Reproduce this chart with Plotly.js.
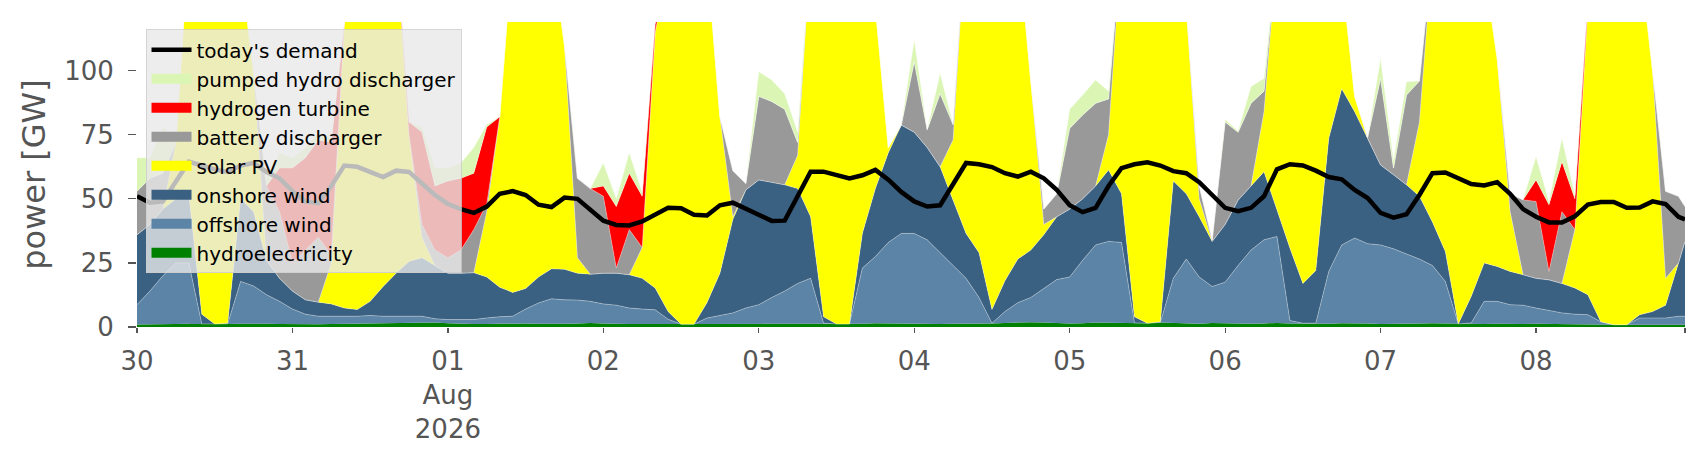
<!DOCTYPE html>
<html>
<head>
<meta charset="utf-8">
<script src="https://cdn.plot.ly/plotly-3.0.1.min.js"></script>
<style>html,body{margin:0;padding:0;background:#fff}#chart{width:1706px;height:460px}</style>
</head>
<body>
<div id="chart"></div>
<script>
// hours after 2026-07-30 00:00
const hoursFromStart = [0,2,4,6,8,10,12,14,16,18,20,22,24,26,28,30,32,34,36,38,40,42,44,46,48,50,52,54,56,58,60,62,64,66,68,70,72,74,76,78,80,82,84,86,88,90,92,94,96,98,100,102,104,106,108,110,112,114,116,118,120,122,124,126,128,130,132,134,136,138,140,142,144,146,148,150,152,154,156,158,160,162,164,166,168,170,172,174,176,178,180,182,184,186,188,190,192,194,196,198,200,202,204,206,208,210,212,214,216,218,220,222,224,226,228,230,232,234,236,238,239];

const hydroelectricity = [1.0,1.0,1.1,1.2,1.3,1.2,1.2,1.2,1.3,1.4,1.3,1.2,1.1,1.1,1.1,1.2,1.3,1.3,1.3,1.4,1.4,1.5,1.6,1.8,1.5,1.3,1.2,1.2,1.3,1.4,1.4,1.3,1.2,1.3,1.4,1.6,1.4,1.2,1.2,1.2,1.2,1.1,1.1,1.1,1.1,1.2,1.3,1.3,1.1,1.1,1.1,1.2,1.2,1.2,1.2,1.2,1.3,1.5,1.4,1.3,1.2,1.2,1.2,1.3,1.3,1.4,1.4,1.6,1.8,1.9,1.8,1.6,1.4,1.5,1.8,1.7,1.6,1.6,1.5,1.8,1.6,1.4,1.3,1.6,1.5,1.3,1.3,1.4,1.6,1.4,1.3,1.3,1.3,1.5,1.5,1.4,1.2,1.2,1.3,1.4,1.5,1.4,1.2,1.2,1.2,1.3,1.2,1.2,1.3,1.2,1.1,1.0,1.0,0.9,0.9,0.9,0.9,0.9,0.9,0.9,0.9];

const offshoreWind = [7.7,13,18.9,23.8,23.7,0,0,0,16.5,14.6,11.3,8.8,5.9,3.9,3.1,3,2.9,2.9,3.2,2.8,2.8,2.7,2.6,1.4,1.4,1.6,1.7,2.3,2.7,2.8,5.6,8.1,9.8,9.3,9.1,8.4,7.6,7.3,6.2,5.8,5.5,1.9,0,0,2.4,3.3,4.2,6.1,7.6,10.4,12.9,15.8,17.8,0.3,0,0,21.7,26,31.6,35.2,35.3,32.8,27.8,22.7,17.7,10.1,0.1,4.4,7.7,9.6,13.2,16.9,18.1,24.5,30.2,31.7,31.4,0,0,0,17.4,25.1,18.2,14.2,16,22.7,28.7,32.6,33.7,1.1,0.2,0.2,20.4,30.5,33.2,31.1,30.8,29.3,27.2,25.1,22.5,16.4,0,0.4,8.8,8.7,7.5,7.3,6.1,5.3,4.4,4,3.8,1.1,0,0,2.6,2.6,2.6,3.3,3.3];

const onshoreWind = [27.3,26,26,25,27,3.8,0,0.3,32.2,29,13.4,9,7,5.6,5.5,4.8,3.2,2.6,5.5,11.6,16.8,21.4,22.8,20.8,18.1,18.1,18.3,16,11.5,9.3,8,10.1,11.7,11.9,10.5,10.6,12,12.5,13,12,8.5,3,0,0,6,16.5,36.5,46.1,48.7,45,41.5,37,24,2.5,0,0,13.6,26.5,35,42.3,39.5,36,33.5,25.5,17.5,17.5,5.3,12,17,18.5,21,24.5,26.5,24,23,27.9,19,2.4,0,0.2,38,25.5,23.5,17.6,22.5,25.5,25,26.6,10.4,28.3,15.5,20.5,51.9,61,49.3,41.1,31.2,28.9,27,24.5,17,11.7,0,10.4,15,13.6,13,11.9,11.6,11.9,11.5,10.2,7.8,0,0,0,1.3,2.5,5,20.8,29.2];

const solarPV = [0,0,0,22,98,130,140,135,90,55,0,0,0,0,0,16,110.6,140,140,134,129,49.4,8,0,0,0,0,25.5,66.5,135,135,130,125,87.5,6,0,0,0,0,12,99.8,135,140,140,135,61,1,0,0,0,0,13,105,140,145,145,110,71,2,0,0,0,0,23.5,120,125,140,135,125,66,4,0,0,0,0,13.7,98,140,145,140,88,73,7,0,0,0,0,23.4,100,115,130,125,70,45,6,0,0,0,0,29,105,120,140,130,115,81.4,23.3,0,0,0,0,22.8,112.4,140,145,145,140,94,10.5,0,0];

const batteryDischarger = [17,18,14,0,0,0,0,0,0,0,29,26,11,19.4,25.3,3,0,0,0,0,0,0,5,6,6,9,16.8,3,0,0,0,0,0,0,31,33.4,30,2,17.6,0,0,0,0,0,0,0,18,2.5,32.6,31.5,29.5,5,0,0,0,0,0,0,0,0,27.5,7,28.5,6,0,0,0,0,0,0,6,9,31.5,32.7,32.3,14,0,0,0,0,0,0,5,0.6,40,26.5,32.3,8,0,0,0,0,0,0,0,0.4,33.8,2.6,35,16,0,0,0,0,0,0,7,29.2,30,3.3,28,0,0,0,0,0,0,0,34,26,13.6];

const hydrogenTurbine = [0,0,0,0,0,0,0,0,0,0,0,17,37,36,38,44,0,0,0,0,0,5,36,25,30,28,22,30,0,0,0,0,0,0,0,0,4,24,22,20,3,0,0,0,0,0,0,0,0,0,0,0,0,0,0,0,0,0,0,0,0,0,0,0,0,0,0,0,0,0,0,0,0,0,0,0,0,0,0,0,0,0,0,0,0,0,0,0,0,0,0,0,0,0,0,0,0,0,0,0,0,0,0,0,0,0,0,0,8.4,26,19.5,12,2,0,0,0,0,0,0,0,0];

const pumpedHydroDischarger = [13,8,18,0,0,0,0,0,0,0,3,6,4,4,3,2,0,0,0,0,0,0,2,7,5,6,10,1,0,0,0,0,0,0,0,0,9,3,8,1.5,0,0,0,0,0,0,0,0,9.6,8.4,6,4,0,0,0,0,0,0,0,0,8.5,0,8,0,0,0,0,0,0,0,0,0,7.5,7.8,9.1,3,0,0,0,0,0,0,0,0,1,0.5,6.5,5,0,0,0,0,0,0,0,0,7.8,3,5.2,0,0,0,0,0,0,0,0,0,9.1,1.3,9.1,1.5,0,0,0,0,0,0,0,0,0];

const todaysDemand = [51,48.5,49,57,64.5,63,61.5,60.5,63,64,60.5,58,53,49,48.3,55,63,62.5,60.5,58.5,61,60.5,56,51.5,48,46,44.5,47,52,53,51.5,47.7,46.8,50.5,50,46,41.5,39.8,39.6,41.2,44,46.5,46.3,43.8,43.5,47.5,48.5,46,43.5,41.4,41.5,51,60.6,60.6,59.3,58,59.2,61.3,57.5,52.7,49,47,47.5,56,64,63.5,62.4,60,58.7,60.6,58,53.5,47.5,44.8,46.5,55,62,63.5,64.3,63,60.8,60,56.5,51.5,46.5,45.2,46.5,51,61.5,63.5,63,61,58.5,57.6,53.5,50.3,44.5,42.7,44,51.5,60,60.3,58,55.8,55.2,56.5,52,46,43,40.8,40.8,43.2,47.8,48.8,48.8,46.5,46.6,49,48,43,42];

const dayTickLabels = ['30','31','01<br>Aug<br>2026','02','03','04','05','06','07','08'];

const stackNames = ['hydroelectricity','offshore wind','onshore wind','solar PV','battery discharger','hydrogen turbine','pumped hydro discharger'];
const stackSeries = [hydroelectricity, offshoreWind, onshoreWind, solarPV, batteryDischarger, hydrogenTurbine, pumpedHydroDischarger];
const stackColors = ['#008000','#5b84a6','#3b6182','#ffff00','#999999','#ff0000','#daf5b4'];

function pad(n){return (n<10?'0':'')+n;}
function fmt(ms){const d=new Date(ms);return d.getUTCFullYear()+'-'+pad(d.getUTCMonth()+1)+'-'+pad(d.getUTCDate())+' '+pad(d.getUTCHours())+':00';}
const t0 = Date.UTC(2026,6,30);
const times = hoursFromStart.map(h => fmt(t0 + h*3600000));
const tickVals = dayTickLabels.map((_, i) => fmt(t0 + i*86400000)).concat([times[times.length-1]]);
const tickText = dayTickLabels.concat(['']);

const traces = [];
stackSeries.forEach((ys, i) => {
  traces.push({x: times, y: ys, type:'scatter', mode:'lines', stackgroup:'one',
    line:{width: i === 0 ? 0 : 0.6, color: 'rgba(255,255,255,0.55)'}, fillcolor:stackColors[i],
    showlegend:false, hoverinfo:'skip', name: stackNames[i]});
});
stackSeries.forEach((ys, i) => {
  traces.push({x:[null], y:[null], type:'scatter', mode:'lines',
    line:{width:13, color:stackColors[i]}, name: stackNames[i], showlegend:true});
});
traces.push({x: times, y: todaysDemand, type:'scatter', mode:'lines',
  line:{width:4.5, color:'#000000'}, name:"today's demand"});

const tickFont = {family:'DejaVu Sans', size:26, color:'#555555'};
const layout = {
  width:1706, height:460,
  margin:{l:137, r:21, t:22, b:133},
  paper_bgcolor:'#ffffff', plot_bgcolor:'#ffffff',
  showlegend:true,
  legend:{x:0.0055, y:0.976, xanchor:'left', yanchor:'top', traceorder:'reversed',
    bgcolor:'rgba(232,232,232,0.8)', bordercolor:'rgba(204,204,204,0.8)', borderwidth:1,
    font:{family:'DejaVu Sans', size:20, color:'#000000'}, itemwidth:40, tracegroupgap:0},
  xaxis:{type:'date', range:[times[0], times[times.length-1]], tickmode:'array',
    tickvals:tickVals, ticktext:tickText, ticks:'outside', ticklen:5, tickwidth:1.2,
    tickcolor:'#555555', tickfont:tickFont, showgrid:false, zeroline:false, showline:false,
    ticklabelstandoff:6},
  yaxis:{range:[0,119], tickmode:'array', tickvals:[0,25,50,75,100], ticks:'outside',
    ticklen:8, tickwidth:1.2, tickcolor:'#555555', tickfont:tickFont, showgrid:false,
    zeroline:false, showline:false, ticklabelstandoff:9,
    title:{text:'power [GW]', font:{family:'DejaVu Sans', size:32, color:'#555555'}, standoff:8}},
  font:{family:'DejaVu Sans'}
};
Plotly.newPlot('chart', traces, layout, {displayModeBar:false, staticPlot:true});
</script>
</body>
</html>
